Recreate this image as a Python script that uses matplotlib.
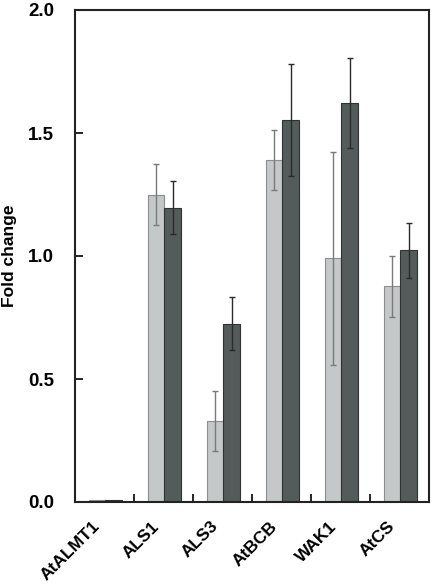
import matplotlib
matplotlib.use("Agg")
import matplotlib.pyplot as plt
import matplotlib.transforms as mtransforms
import numpy as np

plt.rcParams['font.family'] = ['Liberation Sans', 'DejaVu Sans']

genes = ["AtALMT1", "ALS1", "ALS3", "AtBCB", "WAK1", "AtCS"]
light_vals = [0.008, 1.25, 0.33, 1.39, 0.99, 0.877]
light_err = [0.0, 0.122, 0.123, 0.122, 0.433, 0.125]
dark_vals = [0.008, 1.196, 0.725, 1.553, 1.621, 1.023]
dark_err = [0.0, 0.108, 0.107, 0.227, 0.183, 0.111]
yticks = [0.0, 0.5, 1.0, 1.5, 2.0]

fig = plt.figure(figsize=(4.35, 5.87), dpi=100)
ax = fig.add_axes([75/435, 1-502/587, 354/435, 492/587])

x = np.arange(len(genes))
w = 0.285
ax.bar(x - w/2 + 0.015, light_vals, w, color='#c4c8c8', edgecolor='#8a8e8e', linewidth=0.8, zorder=2)
ax.bar(x + w/2 + 0.015, dark_vals, w, color='#535c5a', edgecolor='#2e3432', linewidth=0.8, zorder=2)
for i in range(len(genes)):
    if light_err[i] > 0:
        ax.errorbar(x[i] - w/2 + 0.015, light_vals[i], yerr=light_err[i], fmt='none',
                    ecolor='#7a7a7a', elinewidth=1.0, capsize=2.5, capthick=1.0, zorder=3)
    if dark_err[i] > 0:
        ax.errorbar(x[i] + w/2 + 0.015, dark_vals[i], yerr=dark_err[i], fmt='none',
                    ecolor='#2a2a2a', elinewidth=1.0, capsize=2.5, capthick=1.0, zorder=3)

ax.set_xlim(-0.5, len(genes) - 0.5)
ax.set_ylim(0, 2.0)
ax.set_yticks(yticks)
ax.set_yticklabels([f"{v:.1f}" for v in yticks], fontsize=13.5, fontweight='bold')
ax.tick_params(axis='y', direction='in', length=6, width=1.2, pad=15)

ax.set_xticks(x)
ax.set_xticklabels(genes, rotation=45, ha='right', rotation_mode='anchor',
                   fontsize=12.5, fontweight='bold')
ax.tick_params(axis='x', which='major', length=0, pad=12)
ax.set_xticks(np.arange(0.5, len(genes) - 0.5, 1.0), minor=True)
ax.tick_params(axis='x', which='minor', direction='in', length=6, width=1.2)
offset = mtransforms.ScaledTranslation(-0.12, 0, fig.dpi_scale_trans)
for lab in ax.get_xticklabels():
    lab.set_transform(lab.get_transform() + offset)

for s in ax.spines.values():
    s.set_linewidth(1.5)
    s.set_color('#222222')

ax.set_ylabel("Fold change", fontsize=12.5, fontweight='bold')
ax.yaxis.set_label_coords(-0.165, 0.5)

fig.savefig("out.png", dpi=100)
